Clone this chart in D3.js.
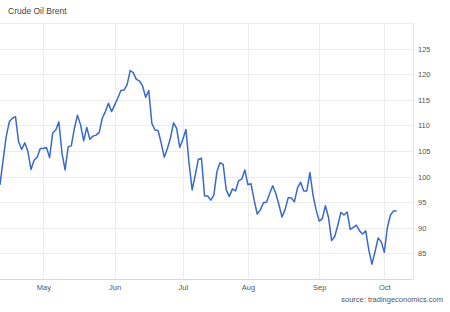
<!DOCTYPE html>
<html>
<head>
<meta charset="utf-8">
<script src="https://cdn.jsdelivr.net/npm/d3@7"></script>
<style>
  body { margin: 0; background: #fff; }
  svg { display: block; font-family: Arial, "Liberation Sans", sans-serif; }
</style>
</head>
<body>
<script>
// daily closes, one per trading day (Apr - early Oct)
const prices = [
  98.4, 103.2, 107.8, 110.7, 111.4, 111.7, 106.8, 105.3, 106.6, 104.9,
  101.4, 103.2, 103.8, 105.5, 105.5, 105.7, 103.7, 108.5, 109.1, 110.7,
  104.6, 101.3, 105.8, 106.0, 109.4, 112.0, 110.1, 107.0, 109.6, 107.3,
  107.9, 108.1, 108.6, 111.4, 112.7,
  114.3, 112.7, 114.0, 115.3, 116.8, 116.9, 117.9, 120.7, 120.3, 119.0,
  118.7, 117.7, 115.5, 116.8, 110.4, 109.1, 109.0, 106.6, 103.8, 105.5,
  107.5, 110.5, 109.4, 105.7, 107.3, 109.2, 102.6, 97.4, 100.3, 103.4,
  103.6, 96.2, 96.2, 95.4, 96.4, 101.0, 102.7, 102.4, 97.4, 96.1,
  97.6, 97.2, 99.2, 99.5, 101.3, 98.4, 98.6, 95.4, 92.7, 93.5,
  94.9, 95.0, 96.7, 98.2, 96.7, 94.5, 92.1, 93.6, 95.9, 95.8,
  95.1,
  97.8, 98.9, 97.2, 97.2, 100.8, 96.4, 93.5, 91.3, 91.8, 94.3,
  92.0, 87.5, 88.3, 90.5, 93.0, 92.5, 93.1, 89.7, 90.1, 90.5,
  89.4, 88.8, 89.4, 85.7, 82.9, 85.3, 88.0, 87.3, 85.2, 90.1,
  92.5, 93.3, 93.3
];

// month labels and the trading-day index where each month begins
const monthLabels = ["May", "Jun", "Jul", "Aug", "Sep", "Oct"];
const monthStart = [14, 37, 59, 80, 103, 124];

const yTicks = [85, 90, 95, 100, 105, 110, 115, 120, 125];
const yGrid = [80, 85, 90, 95, 100, 105, 110, 115, 120, 125, 130];

const w = 450;
const h = 312;
const plotLeft = 0;
const plotRight = 413;
const plotTop = 23;
const plotBottom = 279;
const lastX = 396.7;

const svg = d3.select("body")
  .append("svg")
  .attr("width", w)
  .attr("height", h);

const xScale = d3.scaleLinear()
  .domain([0, prices.length - 1])
  .range([plotLeft, lastX]);

const yScale = d3.scaleLinear()
  .domain([80, 130])
  .range([plotBottom, plotTop]);

svg.append("text")
  .attr("x", 8)
  .attr("y", 14)
  .attr("font-size", 8.5)
  .attr("fill", "#444")
  .text("Crude Oil Brent");

// horizontal grid
svg.append("g")
  .selectAll("line")
  .data(yGrid)
  .enter()
  .append("line")
  .attr("x1", plotLeft)
  .attr("x2", plotRight)
  .attr("y1", d => Math.round(yScale(d)) + 0.5)
  .attr("y2", d => Math.round(yScale(d)) + 0.5)
  .attr("stroke", d => d === 80 ? "#d8d8d8" : "#ececec")
  .attr("stroke-width", 1);

// vertical grid at month starts
svg.append("g")
  .selectAll("line")
  .data(monthStart)
  .enter()
  .append("line")
  .attr("x1", d => Math.round(xScale(d)) + 0.5)
  .attr("x2", d => Math.round(xScale(d)) + 0.5)
  .attr("y1", plotTop)
  .attr("y2", plotBottom)
  .attr("stroke", "#ececec");

svg.append("line")
  .attr("x1", plotRight + 0.5)
  .attr("x2", plotRight + 0.5)
  .attr("y1", plotTop)
  .attr("y2", plotBottom)
  .attr("stroke", "#e2e2e2");

// right-hand value axis
const yAxis = d3.axisRight(yScale)
  .tickValues(yTicks)
  .tickSize(0)
  .tickPadding(5);

const yg = svg.append("g")
  .attr("transform", "translate(" + plotRight + ",0)")
  .call(yAxis);
yg.select(".domain").remove();
yg.selectAll("text")
  .attr("font-size", 7.5)
  .attr("fill", "#555")
  .attr("font-family", "Arial, 'Liberation Sans', sans-serif");

// month axis
const xAxis = d3.axisBottom(xScale)
  .tickValues(monthStart)
  .tickFormat((d, i) => monthLabels[i])
  .tickSize(0)
  .tickPadding(6);

const xg = svg.append("g")
  .attr("transform", "translate(0," + plotBottom + ")")
  .call(xAxis);
xg.select(".domain").remove();
xg.selectAll("text")
  .attr("font-size", 7.5)
  .attr("fill", "#555")
  .attr("font-family", "Arial, 'Liberation Sans', sans-serif");

const line = d3.line()
  .x((d, i) => xScale(i))
  .y(d => yScale(d));

svg.append("path")
  .datum(prices)
  .attr("fill", "none")
  .attr("stroke", "#3b68cc")
  .attr("stroke-width", 1.5)
  .attr("stroke-linejoin", "round")
  .attr("d", line);

svg.append("text")
  .attr("x", 443)
  .attr("y", 302)
  .attr("text-anchor", "end")
  .attr("font-size", 7.5)
  .attr("fill", "#555")
  .text("source: tradingeconomics.com");
</script>
</body>
</html>
